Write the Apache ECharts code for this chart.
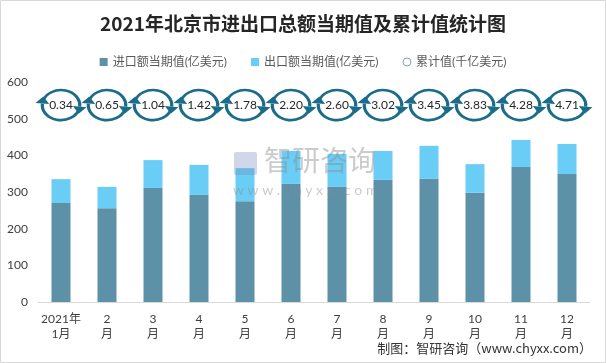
<!DOCTYPE html>
<html><head><meta charset="utf-8">
<script src="https://cdn.jsdelivr.net/npm/echarts@6/dist/echarts.min.js"></script>
<style>html,body{margin:0;padding:0;background:#fff}#c{width:606px;height:363px}</style>
</head><body><div id="c"></div>
<script>
var categories = ['2021年\n1月','2\n月','3\n月','4\n月','5\n月','6\n月','7\n月','8\n月','9\n月','10\n月','11\n月','12\n月'];
var importValues = [270, 256, 311, 292, 275, 322, 314, 333, 336, 298, 368, 349];
var exportValues = [65, 58, 76, 82, 90, 90, 90, 79, 90, 78, 74, 82];
var cumulativeValues = [0.34, 0.65, 1.04, 1.42, 1.78, 2.20, 2.60, 3.02, 3.45, 3.83, 4.28, 4.71];
var yTicks = [0, 100, 200, 300, 400, 500, 600];
var ICON_LEVEL = 537;

var FONT = 'Lato, "Noto Sans CJK SC", sans-serif';
var C_IMP = '#5d91a7', C_EXP = '#69cdf6', C_ICON = '#1b6b8a';

function arrowHead(r, theta, dir) {
  var px = r * Math.cos(theta), py = r * Math.sin(theta);
  var dx = -Math.sin(theta) * dir, dy = Math.cos(theta) * dir;
  var nx = Math.cos(theta), ny = Math.sin(theta);
  var L = 7, W = 5.5;
  return [[px + dx * L, py + dy * L], [px + nx * W, py + ny * W], [px - nx * W, py - ny * W]];
}

var chart = echarts.init(document.getElementById('c'));
var r = 15;
var deg = Math.PI / 180;
chart.setOption({
  animation: false,
  title: {
    text: '2021年北京市进出口总额当期值及累计值统计图',
    left: 'center', top: 9,
    textStyle: { fontFamily: '"Noto Sans CJK SC", serif', fontSize: 19, fontWeight: 'bold', color: '#262626' }
  },
  legend: {
    top: 51, left: 'center', itemWidth: 8, itemHeight: 8, itemGap: 24,
    textStyle: { fontFamily: FONT, fontSize: 12, color: '#595959' },
    data: [
      { name: '进口额当期值(亿美元)', icon: 'rect' },
      { name: '出口额当期值(亿美元)', icon: 'rect' },
      { name: '累计值(千亿美元)', icon: 'circle', itemStyle: { color: '#fff', borderColor: '#7fa3b5', borderWidth: 1 } }
    ]
  },
  grid: { left: 38, right: 16, top: 82, bottom: 61 },
  xAxis: {
    type: 'category', data: categories,
    axisLine: { lineStyle: { color: '#d9d9d9' } },
    axisTick: { show: false },
    axisLabel: { fontFamily: FONT, fontSize: 12, color: '#404040', margin: 10, lineHeight: 15, interval: 0 }
  },
  yAxis: {
    type: 'value', min: yTicks[0], max: yTicks[yTicks.length - 1], interval: 100,
    axisLine: { show: false }, axisTick: { show: false }, splitLine: { show: false },
    axisLabel: { fontFamily: FONT, fontSize: 12, color: '#404040', margin: 10 }
  },
  series: [
    { name: '进口额当期值(亿美元)', type: 'bar', stack: 't', barWidth: 19, data: importValues, itemStyle: { color: C_IMP } },
    { name: '出口额当期值(亿美元)', type: 'bar', stack: 't', barWidth: 19, data: exportValues, itemStyle: { color: C_EXP } },
    {
      name: '累计值(千亿美元)', type: 'custom',
      itemStyle: { color: '#fff', borderColor: '#7fa3b5' },
      data: cumulativeValues.map(function (v, i) { return [i, v]; }),
      encode: { x: 0, y: 1 },
      renderItem: function (params, api) {
        var idx = api.value(0);
        var p = api.coord([idx, ICON_LEVEL]);
        var v = api.value(1);
        var s1 = 194 * deg, e1 = 366 * deg, s2 = 14 * deg, e2 = 186 * deg;
        return {
          type: 'group', x: p[0], y: p[1],
          children: [
            { type: 'group', scaleX: 1.25, children: [
              { type: 'arc', shape: { cx: 0, cy: 0, r: r, startAngle: s1, endAngle: e1, clockwise: true },
                style: { stroke: C_ICON, lineWidth: 2.6, fill: null } },
              { type: 'polygon', shape: { points: arrowHead(r, e1, 1) }, style: { fill: C_ICON } },
              { type: 'arc', shape: { cx: 0, cy: 0, r: r, startAngle: s2, endAngle: e2, clockwise: true },
                style: { stroke: C_ICON, lineWidth: 2.6, fill: null } },
              { type: 'polygon', shape: { points: arrowHead(r, e2, 1) }, style: { fill: C_ICON } }
            ]},
            { type: 'text', style: { text: v.toFixed(2), x: 0, y: 0, align: 'center', verticalAlign: 'middle',
              fontSize: 12, fontFamily: FONT, fill: '#262626' } }
          ]
        };
      }
    }
  ],
  graphic: [
    { type: 'rect', shape: { x: 0.5, y: 0.5, width: 605, height: 362 }, style: { fill: null, stroke: '#d9d9d9', lineWidth: 1 }, z: 100 },
    { type: 'text', right: 14, top: 342, style: { text: '制图：智研咨询（www.chyxx.com）', fontSize: 13,
      fontFamily: '"Noto Sans CJK SC", sans-serif', fill: '#333' }, z: 100 },
    { type: 'text', left: 264, top: 146, style: { text: '智研咨询', fontSize: 28,
      fontFamily: '"Noto Sans CJK SC", sans-serif', fill: 'rgba(140,140,140,0.45)' }, z: 100 },
    { type: 'text', left: 233, top: 183, style: { text: 'w w w . c h y x x . c o m', fontSize: 14,
      fontFamily: FONT, fill: 'rgba(140,140,140,0.45)' }, z: 100 },
    { type: 'rect', shape: { x: 234, y: 152, width: 23, height: 23, r: 2 }, style: { fill: 'rgba(120,140,190,0.35)' }, z: 100 }
  ]
});
</script></body></html>
